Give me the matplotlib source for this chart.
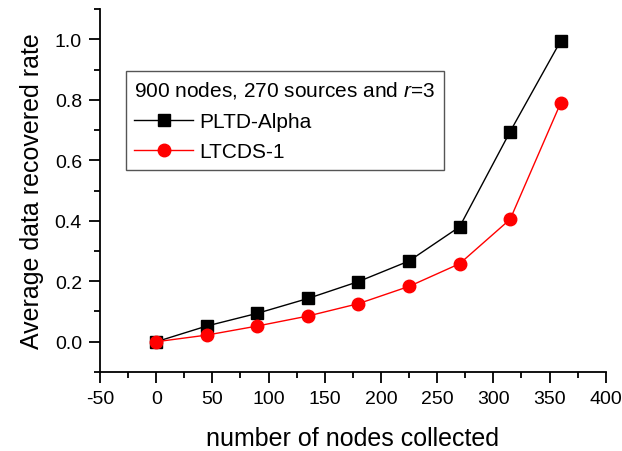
import numpy as np
import matplotlib
matplotlib.use("Agg")
import matplotlib.pyplot as plt
from matplotlib.ticker import MultipleLocator

plt.rcParams["font.family"] = ["Liberation Sans", "DejaVu Sans"]
plt.rcParams["mathtext.fontset"] = "custom"
plt.rcParams["mathtext.rm"] = "Liberation Sans"
plt.rcParams["mathtext.it"] = "Liberation Sans:italic"
plt.rcParams["axes.unicode_minus"] = False

# ---- data ----
nodes_collected = [0, 45, 90, 135, 180, 225, 270, 315, 360]
pltd_alpha = [0.0, 0.052, 0.094, 0.143, 0.199, 0.267, 0.380, 0.695, 0.995]
ltcds_1 = [0.0, 0.022, 0.052, 0.085, 0.126, 0.183, 0.258, 0.405, 0.790]

legend_title = "900 nodes, 270 sources and $r$=3"
labels = ["PLTD-Alpha", "LTCDS-1"]

fig = plt.figure(figsize=(6.22, 4.52), dpi=100)
ax = fig.add_axes([0.1608, 0.1748, 0.813, 0.803])

ax.plot(nodes_collected, pltd_alpha, color="black", lw=1.0, marker="s",
        ms=8, mfc="black", mec="black", label=labels[0])
ax.plot(nodes_collected, ltcds_1, color="red", lw=1.0, marker="o",
        ms=9, mfc="red", mec="red", label=labels[1])

ax.set_xlim(-50, 400)
ax.set_ylim(-0.1, 1.1)
ax.xaxis.set_major_locator(MultipleLocator(50))
ax.xaxis.set_minor_locator(MultipleLocator(25))
ax.yaxis.set_major_locator(MultipleLocator(0.2))
ax.yaxis.set_minor_locator(MultipleLocator(0.1))
ax.yaxis.set_major_formatter(plt.FuncFormatter(lambda v, p: f"{v:.1f}"))

for sp in ["top", "right"]:
    ax.spines[sp].set_visible(False)
for sp in ["left", "bottom"]:
    ax.spines[sp].set_linewidth(1.3)

ax.tick_params(which="major", direction="out", length=8, width=1.3, labelsize=14, pad=5)
ax.tick_params(which="minor", direction="out", length=4, width=1.3)

ax.set_xlabel("number of nodes collected", fontsize=18, labelpad=14)
ax.set_ylabel("Average data recovered rate", fontsize=18, labelpad=8)

leg = ax.legend(title=legend_title, loc="upper left",
                bbox_to_anchor=(126 / 622, 1 - 72 / 452), bbox_transform=fig.transFigure,
                borderaxespad=0, fontsize=15, title_fontsize=15, fancybox=False,
                edgecolor="#555555", framealpha=1, handlelength=2.8,
                handletextpad=0.3, labelspacing=0.55, borderpad=0.4)
leg._legend_box.align = "left"
leg.get_frame().set_linewidth(1.0)

fig.savefig("out.png", dpi=100)
